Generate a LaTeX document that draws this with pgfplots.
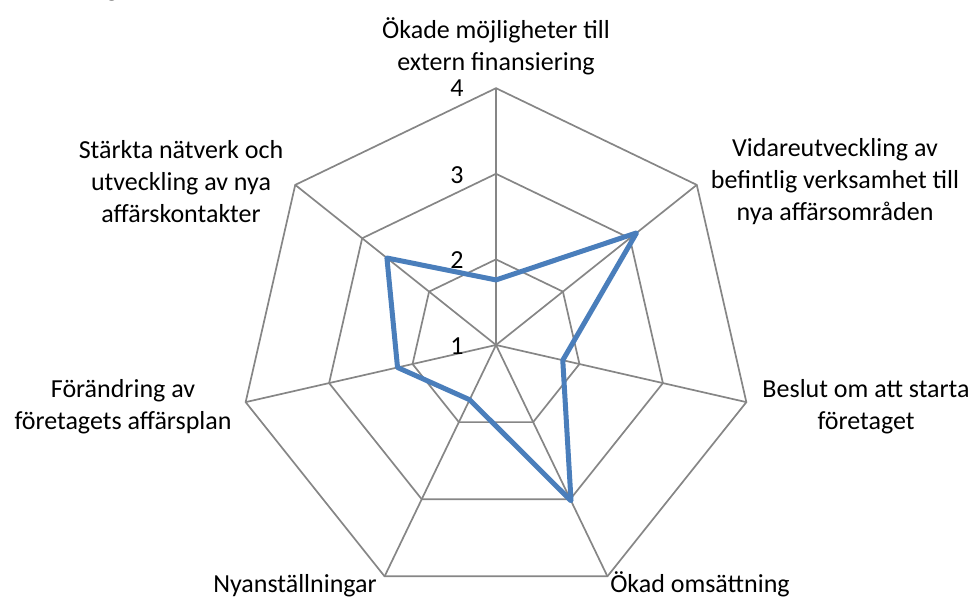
\documentclass[border=0pt]{standalone}
\usepackage{fontspec}
\setmainfont{Carlito}
\usepackage{pgfplots}
\usepackage{pgfplotstable}
\pgfplotsset{compat=1.18}

\definecolor{gridc}{HTML}{868686}
\definecolor{serie}{HTML}{4A7EBB}

% spoke angles (deg), clockwise from the top; r = outer ring
\pgfplotstableread{
a r
90 3
38.5714 3
-12.8571 3
-64.2857 3
-115.7143 3
-167.1429 3
141.4286 3
}\spokes

% values (scale 1 to 4, 1 at the centre)
\pgfplotstableread{
a v
90 1.76
38.5714 3.10
-12.8571 1.80
-64.2857 3.02
-115.7143 1.71
-167.1429 2.18
141.4286 2.63
}\data

\begin{document}
\begin{tikzpicture}
\path[use as bounding box] (0,0) rectangle (487pt,299pt);
\begin{axis}[
  hide axis, clip=false,
  x=42.8pt, y=42.8pt,
  xmin=-3, xmax=3, ymin=-3, ymax=3,
  anchor=origin, at={(248pt,126.5pt)},
]
\pgfplotsinvokeforeach{1,2,3}{
  \addplot[gridc, line width=0.85pt, mark=none]
    table[x expr={#1*cos(\thisrow{a})}, y expr={#1*sin(\thisrow{a})}] {\spokes} -- cycle;
}
\pgfplotsinvokeforeach{90,38.5714,-12.8571,-64.2857,-115.7143,-167.1429,141.4286}{
  \draw[gridc, line width=0.85pt] (axis cs:0,0) -- (axis cs:{3*cos(#1)},{3*sin(#1)});
}
\addplot[serie, line width=2.5pt, mark=none, line join=round]
  table[x expr={(\thisrow{v}-1)*cos(\thisrow{a})}, y expr={(\thisrow{v}-1)*sin(\thisrow{a})}] {\data} -- cycle;
\end{axis}

\begin{scope}[x=0.5pt, y=-0.5pt, shift={(0,299pt)},
  every node/.style={font=\fontsize{13}{16}\selectfont, align=center, inner sep=0pt}]
\node at (496,46.5) {Ökade möjligheter till\\extern finansiering};
\node at (835,181.5) {Vidareutveckling av\\befintlig verksamhet till\\nya affärsområden};
\node at (866,406.5) {Beslut om att starta\\företaget};
\node[anchor=base] at (700,593) {Ökad omsättning};
\node[anchor=base] at (295,593) {Nyanställningar};
\node at (123,406.5) {Förändring av\\företagets affärsplan};
\node at (181,181.5) {Stärkta nätverk och\\utveckling av nya\\affärskontakter};
\node[anchor=east] at (464,88.5) {4};
\node[anchor=east] at (464,175) {3};
\node[anchor=east] at (464,260) {2};
\node[anchor=east] at (464,346) {1};
\node[anchor=base, font=\bfseries\fontsize{13}{16}\selectfont] at (105,-3) {ng};
\end{scope}
\end{tikzpicture}
\end{document}
